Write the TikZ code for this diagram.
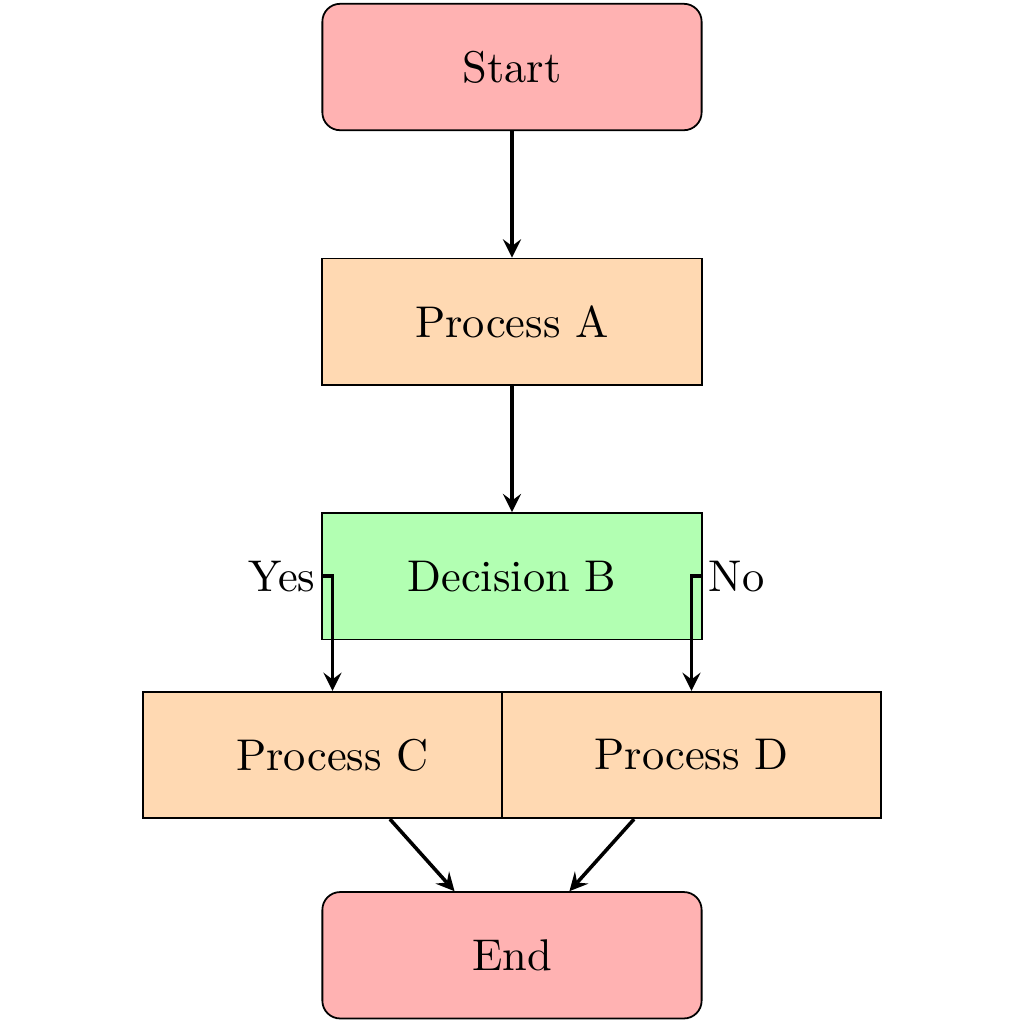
\documentclass[tikz,border=0pt]{standalone}
\usepackage{tikz}
\usetikzlibrary{arrows, positioning}

\begin{document}
\begin{tikzpicture}[node distance=1cm,
 term/.style={rectangle,rounded corners,draw=black,fill=red!30,
   minimum height=1.0cm,minimum width=3.0cm},
 proc/.style={rectangle,draw=black,fill=orange!30,
   minimum height=1.0cm,minimum width=3.0cm},
 decide/.style={rectangle,draw=black,fill=green!30,
   minimum height=1.0cm,minimum width=3.0cm},
 flow/.style={->,>=stealth,thick}]
 \useasboundingbox (-4.05,0.53) rectangle (4.05,-7.57);
 \node[term] (start) {Start};
 \node[proc,below=of start] (procA) {Process A};
 \node[decide,below=of procA] (decision) {Decision B};
 \node[proc,below=0.4cm of decision,xshift=-1.42cm] (procC) {Process C};
 \node[proc,below=0.4cm of decision,xshift=1.42cm] (procD) {Process D};
 \node[term,below=0.57cm of procC,xshift=1.42cm] (stop) {End};
 \draw[flow] (start) -- (procA);
 \draw[flow] (procA) -- (decision);
 \draw[flow] (decision.west) node[left,inner sep=1pt]{Yes} -| (procC.north);
 \draw[flow] (decision.east) node[right,inner sep=1pt]{No} -| (procD.north);
 \draw[flow] (procC) -- (stop);
 \draw[flow] (procD) -- (stop);
\end{tikzpicture}
\end{document}
